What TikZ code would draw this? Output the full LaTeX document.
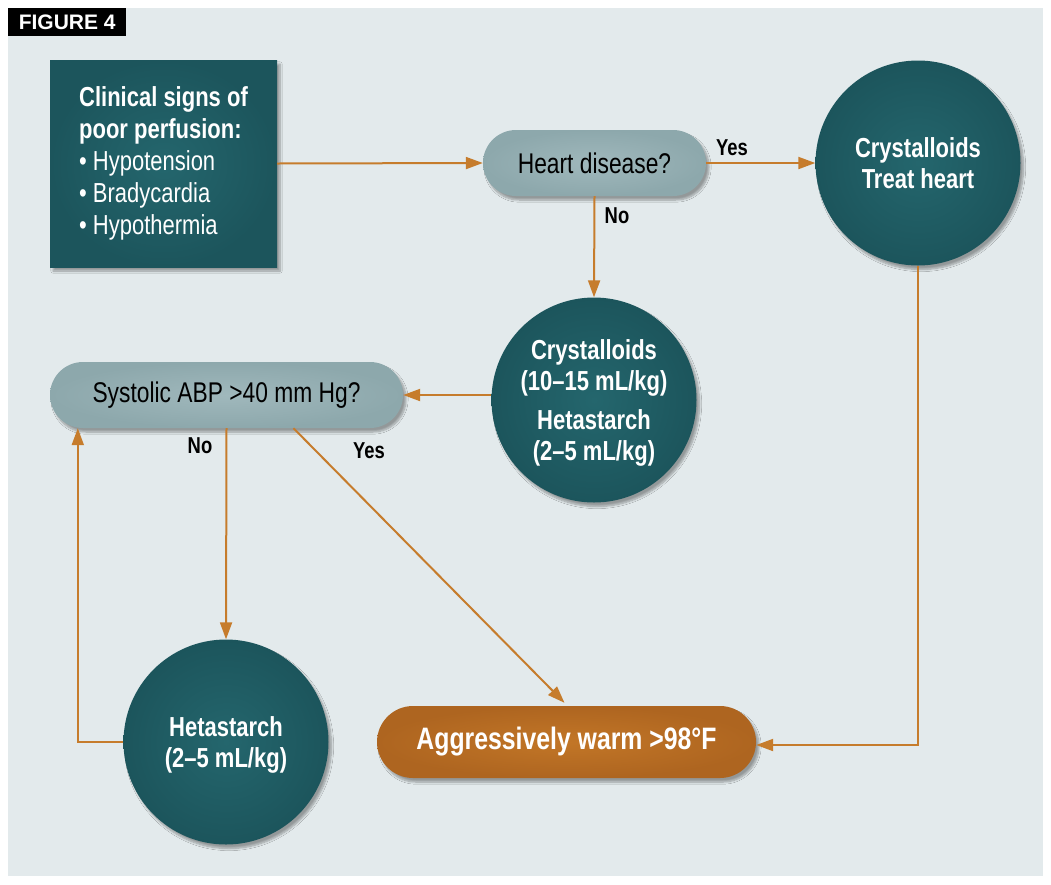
\documentclass[tikz,border=0pt]{standalone}
\usepackage{fontspec}
\setmainfont{Liberation Sans}[FakeStretch=0.8]
\newfontfamily\figfont{Liberation Sans}
\usetikzlibrary{shadows.blur,arrows.meta,calc}
\definecolor{bgc}{HTML}{E3EAEC}
\definecolor{tealin}{HTML}{24666D}
\definecolor{tealout}{HTML}{1C555C}
\definecolor{grayin}{HTML}{A0B8BC}
\definecolor{grayout}{HTML}{8DA8AC}
\definecolor{orgin}{HTML}{C27627}
\definecolor{orgout}{HTML}{AE6520}
\definecolor{arrc}{HTML}{C67C2C}
\tikzset{
  shad/.style={blur shadow={shadow xshift=3pt,shadow yshift=-4pt,shadow blur steps=8,shadow opacity=35}},
  tealshape/.style={shad,inner color=tealin,outer color=tealout,text=white,font=\fontsize{27.5}{31}\selectfont\bfseries,align=center},
  bigcirc/.style={tealshape,circle,minimum size=205pt,inner sep=0pt,text depth=0pt},
  graypill/.style={shad,rectangle,rounded corners=33pt,inner color=grayin,outer color=grayout,text=black,font=\fontsize{28.5}{30}\selectfont,minimum height=66pt,inner sep=0pt},
  arr/.style={draw=arrc,line width=2pt,-{Triangle[length=17pt,width=12pt]}},
  lbl/.style={font=\fontsize{23}{26}\selectfont\bfseries,text=black,inner sep=0pt}
}
\begin{document}
\begin{tikzpicture}[x=1pt,y=-1pt]
\useasboundingbox (0,0) rectangle (1051,884);
\fill[white] (0,0) rectangle (1051,884);
\fill[bgc] (8,8) rectangle (1043,876);
\node[fill=black,text=white,anchor=north west,minimum width=118pt,minimum height=28pt,inner sep=0pt,font=\figfont\fontsize{21}{24}\selectfont\bfseries] (fig) at (8,8) {FIGURE 4};

\node[tealshape,rectangle,minimum width=227pt,minimum height=207pt,align=left,font=\fontsize{27.5}{32}\selectfont] (sq) at (163.5,163.5)
  {\bfseries Clinical signs of\\ \bfseries poor perfusion:\\ • Hypotension\\ • Bradycardia\\ • Hypothermia};

\node[graypill,minimum width=223pt] (heart) at (594.5,163) {Heart disease?};
\node[bigcirc] (c1) at (918,163) {Crystalloids\\Treat heart};
\node[bigcirc] (c2) at (594,400) {Crystalloids\\(10–15 mL/kg)\\[8pt]Hetastarch\\(2–5 mL/kg)};
\node[graypill,minimum width=353pt] (sys) at (226.5,395) {Systolic ABP >40 mm Hg?};
\node[bigcirc] (c3) at (226,742) {Hetastarch\\(2–5 mL/kg)};
\node[shad,rectangle,rounded corners=36pt,inner color=orgin,outer color=orgout,text=white,minimum width=379pt,minimum height=72pt,inner sep=0pt,font=\fontsize{31}{34}\selectfont\bfseries] (agg) at (566.5,742) {Aggressively warm >98°F};

\draw[arr] (sq.east) -- (heart.west);
\draw[arr] (heart.east) -- (c1.west);
\draw[arr] (heart.south) -- (c2.north);
\draw[arr] (sys.east -| c2.west) -- (sys.east);
\draw[arr] (sys.south) -- (c3.north);
\draw[arr] ($(sys.south)+(67,0)$) -- ($(agg.north)+(-2,-3)$);
\draw[arr] (c3.west) -| ($(sys.south west)+(28,0)$);
\draw[arr] (c1.south) |- ($(agg.east)+(0,3)$);

\node[lbl] (yes1) at (732,148) {Yes};
\node[lbl] (no1) at (617,216) {No};
\node[lbl] (no2) at (200,446) {No};
\node[lbl] (yes2) at (369,451) {Yes};
\end{tikzpicture}
\end{document}
